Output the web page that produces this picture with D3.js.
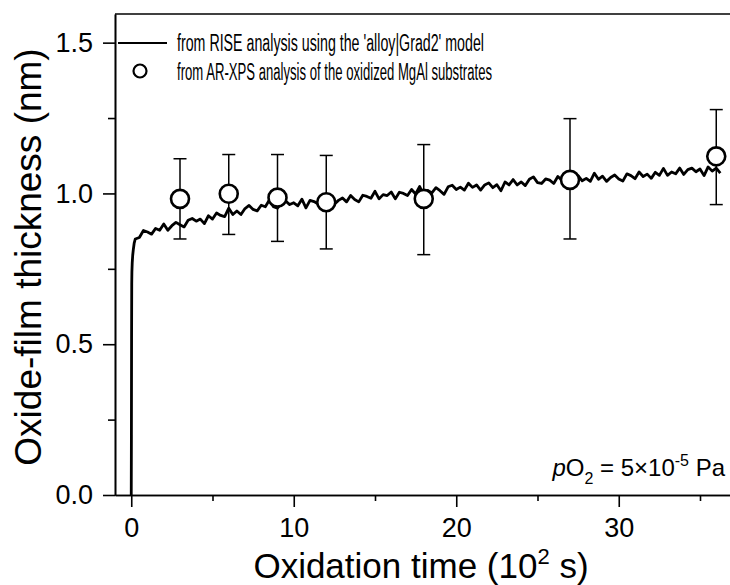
<!DOCTYPE html>
<html>
<head>
<meta charset="utf-8">
<script src="https://cdn.jsdelivr.net/npm/d3@7/dist/d3.min.js"></script>
<style>
  html, body { margin: 0; padding: 0; background: #fff; }
  svg { display: block; font-family: "Liberation Sans", Arial, sans-serif; }
</style>
</head>
<body>
<svg id="chart" width="730" height="585"></svg>
<script>
// ---------- DATA ----------
// RISE analysis curve: time (10^2 s) and oxide-film thickness (nm)
const riseTime = [0, 0.01, 0.02, 0.03, 0.04, 0.06, 0.09, 0.13, 0.18,
  0.25, 0.5, 0.75, 1.0, 1.25, 1.5, 1.75, 2.0, 2.25, 2.5, 2.75, 3.0, 3.25, 3.5, 3.75,
  4.0, 4.25, 4.5, 4.75, 5.0, 5.25, 5.5, 5.75, 6.0, 6.25, 6.5, 6.75, 7.0, 7.25, 7.5, 7.75,
  8.0, 8.25, 8.5, 8.75, 9.0, 9.25, 9.5, 9.75, 10.0, 10.25, 10.5, 10.75, 11.0, 11.25, 11.5, 11.75,
  12.0, 12.25, 12.5, 12.75, 13.0, 13.25, 13.5, 13.75, 14.0, 14.25, 14.5, 14.75, 15.0, 15.25, 15.5, 15.75,
  16.0, 16.25, 16.5, 16.75, 17.0, 17.25, 17.5, 17.75, 18.0, 18.25, 18.5, 18.75, 19.0, 19.25, 19.5, 19.75,
  20.0, 20.25, 20.5, 20.75, 21.0, 21.25, 21.5, 21.75, 22.0, 22.25, 22.5, 22.75, 23.0, 23.25, 23.5, 23.75,
  24.0, 24.25, 24.5, 24.75, 25.0, 25.25, 25.5, 25.75, 26.0, 26.25, 26.5, 26.75, 27.0, 27.25, 27.5, 27.75,
  28.0, 28.25, 28.5, 28.75, 29.0, 29.25, 29.5, 29.75, 30.0, 30.25, 30.5, 30.75, 31.0, 31.25, 31.5, 31.75,
  32.0, 32.25, 32.5, 32.75, 33.0, 33.25, 33.5, 33.75, 34.0, 34.25, 34.5, 34.75, 35.0, 35.25, 35.5, 35.75,
  36.0, 36.25];
const riseThickness = [0, 0.20, 0.52, 0.70, 0.74, 0.77, 0.795, 0.815, 0.835,
  0.849, 0.854, 0.877, 0.872, 0.865, 0.884, 0.878, 0.899, 0.878, 0.893, 0.904, 0.896, 0.889, 0.911, 0.917,
  0.908, 0.915, 0.900, 0.926, 0.915, 0.935, 0.927, 0.923, 0.951, 0.930, 0.942, 0.930, 0.950, 0.960, 0.947, 0.942,
  0.961, 0.956, 0.978, 0.956, 0.951, 0.969, 0.975, 0.963, 0.969, 0.959, 0.981, 0.952, 0.977, 0.973, 0.965, 0.981,
  0.970, 0.989, 0.964, 0.977, 0.985, 0.972, 0.993, 0.980, 0.972, 0.994, 0.990, 0.984, 1.007, 0.982, 0.996, 0.993,
  1.005, 0.982, 1.004, 1.000, 0.993, 1.013, 0.998, 1.023, 0.995, 1.010, 1.002, 1.019, 1.009, 0.997, 1.022, 1.027,
  1.013, 1.021, 1.011, 1.034, 1.020, 1.028, 1.011, 1.028, 1.035, 1.019, 1.029, 1.009, 1.038, 1.028, 1.046, 1.028,
  1.038, 1.026, 1.047, 1.055, 1.036, 1.033, 1.048, 1.044, 1.033, 1.056, 1.044, 1.053, 1.032, 1.051, 1.059, 1.042,
  1.050, 1.040, 1.067, 1.047, 1.057, 1.040, 1.053, 1.061, 1.048, 1.041, 1.065, 1.059, 1.049, 1.071, 1.056, 1.064,
  1.050, 1.070, 1.060, 1.083, 1.060, 1.071, 1.065, 1.084, 1.063, 1.079, 1.084, 1.072, 1.081, 1.059, 1.088, 1.074,
  1.084, 1.067];

// AR-XPS points
const xpsTime = [3, 6, 9, 12, 18, 27, 36];
const xpsThickness = [0.982, 0.999, 0.986, 0.971, 0.982, 1.045, 1.123];
const xpsLow = [0.849, 0.864, 0.841, 0.816, 0.797, 0.849, 0.963];
const xpsHigh = [1.115, 1.129, 1.129, 1.126, 1.162, 1.248, 1.278];

const xMajorTicks = [0, 10, 20, 30];
const xMinorTicks = [5, 15, 25, 35];
const yMajorTicks = [0, 0.5, 1.0, 1.5];
const yMinorTicks = [0.25, 0.75, 1.25];
const yTickLabels = ["0.0", "0.5", "1.0", "1.5"];

const legendLabels = ["from RISE analysis using the 'alloy|Grad2' model",
                      "from AR-XPS analysis of the oxidized MgAl substrates"];

// ---------- CHART ----------
const svg = d3.select("#chart");
const plotLeft = 115, plotTop = 14, plotBottom = 495;
const x = d3.scaleLinear().domain([-1, 37]).range([plotLeft, plotLeft + 38 * 16.25]);
const y = d3.scaleLinear().domain([0, 1.595]).range([plotBottom, plotTop]);

// top frame line
svg.append("line").attr("x1", x(-1)).attr("x2", x(37)).attr("y1", y(1.595)).attr("y2", y(1.595))
  .attr("stroke", "#000").attr("stroke-width", 1.6);

// axes
const yAxisMajor = d3.axisLeft(y).tickValues(yMajorTicks).tickSize(12).tickSizeOuter(0)
  .tickFormat((d, i) => yTickLabels[i]).tickPadding(10);
const yAxisMinor = d3.axisLeft(y).tickValues(yMinorTicks).tickSize(7).tickSizeOuter(0).tickFormat("");
const xAxisMajor = d3.axisBottom(x).tickValues(xMajorTicks).tickSize(12).tickSizeOuter(0).tickPadding(11);
const xAxisMinor = d3.axisBottom(x).tickValues(xMinorTicks).tickSize(6).tickSizeOuter(0).tickFormat("");

function styleAxis(g) {
  g.selectAll("path.domain").attr("stroke", "#000").attr("stroke-width", 1.6);
  g.selectAll(".tick line").attr("stroke", "#000").attr("stroke-width", 1.6);
  g.selectAll(".tick text").attr("fill", "#000")
    .style("font-family", "'Liberation Sans', Arial, sans-serif").style("font-size", "27px");
}
svg.append("g").attr("transform", `translate(${plotLeft},0)`).call(yAxisMinor).call(styleAxis);
svg.append("g").attr("transform", `translate(${plotLeft},0)`).call(yAxisMajor).call(styleAxis);
svg.append("g").attr("transform", `translate(0,${plotBottom})`).call(xAxisMinor).call(styleAxis);
svg.append("g").attr("transform", `translate(0,${plotBottom})`).call(xAxisMajor).call(styleAxis);

// clip
svg.append("clipPath").attr("id", "plotclip").append("rect")
  .attr("x", plotLeft).attr("y", plotTop).attr("width", 730 - plotLeft).attr("height", plotBottom - plotTop);

const plot = svg.append("g").attr("clip-path", "url(#plotclip)");

const line = d3.line().x((d, i) => x(riseTime[i])).y(d => y(d));
plot.append("path").datum(riseThickness)
  .attr("d", line).attr("fill", "none").attr("stroke", "#000")
  .attr("stroke-width", 2.8).attr("stroke-linejoin", "round");

// error bars
const eb = plot.append("g").attr("stroke", "#000").attr("stroke-width", 1.5);
xpsTime.forEach((t, i) => {
  eb.append("line").attr("x1", x(t)).attr("x2", x(t)).attr("y1", y(xpsLow[i])).attr("y2", y(xpsHigh[i]));
  eb.append("line").attr("x1", x(t) - 6.5).attr("x2", x(t) + 6.5).attr("y1", y(xpsLow[i])).attr("y2", y(xpsLow[i]));
  eb.append("line").attr("x1", x(t) - 6.5).attr("x2", x(t) + 6.5).attr("y1", y(xpsHigh[i])).attr("y2", y(xpsHigh[i]));
});
plot.append("g").selectAll("circle").data(xpsThickness).join("circle")
  .attr("cx", (d, i) => x(xpsTime[i])).attr("cy", d => y(d)).attr("r", 9)
  .attr("fill", "#fff").attr("stroke", "#000").attr("stroke-width", 2.6);

// legend
const lg = svg.append("g");
lg.append("line").attr("x1", 118).attr("x2", 167).attr("y1", 43).attr("y2", 43)
  .attr("stroke", "#000").attr("stroke-width", 2.2);
lg.append("circle").attr("cx", 140).attr("cy", 71).attr("r", 6.5)
  .attr("fill", "#fff").attr("stroke", "#000").attr("stroke-width", 2.2);
const legendWidths = [307, 315];
legendLabels.forEach((t, i) => {
  lg.append("text").attr("x", 177).attr("y", 51 + i * 29)
    .attr("textLength", legendWidths[i]).attr("lengthAdjust", "spacingAndGlyphs")
    .style("font-size", "23px").attr("fill", "#000").text(t);
});

// pO2 annotation
const ann = svg.append("text").attr("x", 725).attr("y", 476).attr("text-anchor", "end")
  .style("font-size", "24px").attr("fill", "#000");
ann.append("tspan").style("font-style", "italic").text("p");
ann.append("tspan").text("O");
ann.append("tspan").attr("dy", 8).style("font-size", "16px").text("2");
ann.append("tspan").attr("dy", -8).text(" = 5×10");
ann.append("tspan").attr("dy", -10).style("font-size", "16px").text("-5");
ann.append("tspan").attr("dy", 10).text(" Pa");

// axis titles
const xt = svg.append("text").attr("x", 421).attr("y", 578).attr("text-anchor", "middle")
  .style("font-size", "35px").attr("fill", "#000");
xt.append("tspan").text("Oxidation time (10");
xt.append("tspan").attr("dy", -14).style("font-size", "22px").text("2");
xt.append("tspan").attr("dy", 14).text(" s)");

svg.append("text").attr("transform", "translate(41,257) rotate(-90)")
  .attr("text-anchor", "middle").style("font-size", "37px").attr("fill", "#000")
  .text("Oxide-film thickness (nm)");
</script>
</body>
</html>
